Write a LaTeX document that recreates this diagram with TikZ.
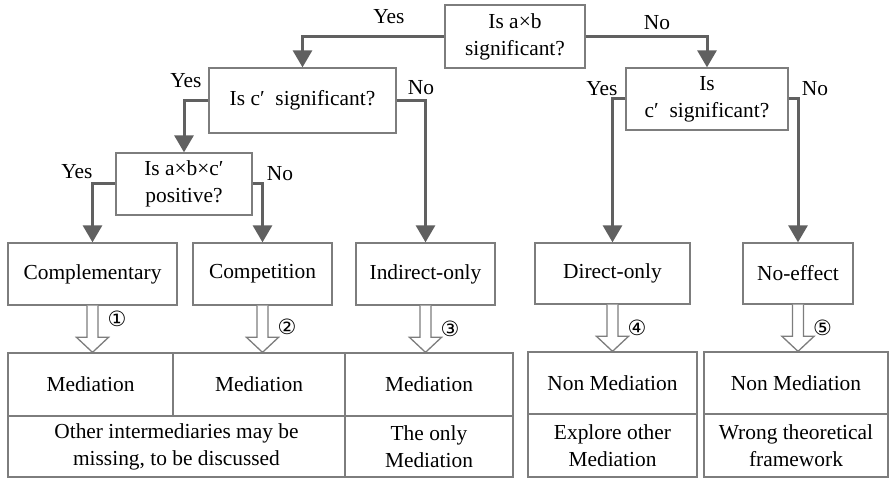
\documentclass[tikz,border=0pt]{standalone}
\usepackage{fontspec}
\setmainfont{Liberation Serif}
\newfontfamily\circfont{DejaVu Sans}
\usetikzlibrary{arrows.meta,calc}
\definecolor{linkgray}{RGB}{96,96,96}
\definecolor{boxgray}{RGB}{125,125,125}

\begin{document}
\begin{tikzpicture}[x=1pt,y=-1pt,>={Triangle[width=19pt,length=17pt]},
    every node/.style={font=\fontsize{21.4}{27}\selectfont},
    box/.style={draw=boxgray,line width=1.3pt,inner sep=0pt,align=center},
    link/.style={->,draw=linkgray,line width=3pt},
    hollow/.style={draw=boxgray,line width=1.3pt,fill=white,line join=miter}]
  \useasboundingbox (0,0) rectangle (889,478);

  % questions
  \node[box,minimum width=140pt,minimum height=63pt] (ab) at (515,36.5) {Is a×b\\significant?};
  \node[box,minimum width=187pt,minimum height=65pt] (cleft) at (302.5,100.5) {Is c′\enspace significant?};
  \node[box,minimum width=136pt,minimum height=62pt] (abc) at (184,184) {Is a×b×c′\\positive?};
  \node[box,minimum width=162pt,minimum height=62pt] (cright) at (707,99) {Is\\c′\enspace significant?};

  % mediation types
  \node[box,minimum width=169pt,minimum height=62pt] (compl) at (92.5,274) {Complementary};
  \node[box,minimum width=139pt,minimum height=62pt] (compet) at (262.5,274) {Competition};
  \node[box,minimum width=139pt,minimum height=62pt] (indir) at (425.5,274) {Indirect-only};
  \node[box,minimum width=155pt,minimum height=61pt] (direct) at (612.5,273.5) {Direct-only};
  \node[box,minimum width=110pt,minimum height=61pt] (noeff) at (798,273.5) {No-effect};

  % result tables
  \node[box,minimum width=165pt,minimum height=63pt] (med1) at (90.5,384.5) {Mediation};
  \node[box,minimum width=172pt,minimum height=63pt] (med2) at (259,384.5) {Mediation};
  \node[box,minimum width=168pt,minimum height=63pt] (med3) at (429,384.5) {Mediation};
  \node[box,minimum width=337pt,minimum height=61pt] (note12) at (176.5,446.5) {Other intermediaries may be\\missing, to be discussed};
  \node[box,minimum width=168pt,minimum height=61pt] (note3) at (429,446.5) {The only\\Mediation};
  \node[box,minimum width=169pt,minimum height=62pt] (med4) at (612.5,383) {Non Mediation};
  \node[box,minimum width=169pt,minimum height=63pt] (note4) at (612.5,445.5) {Explore other\\Mediation};
  \node[box,minimum width=184pt,minimum height=62pt] (med5) at (796,383) {Non Mediation};
  \node[box,minimum width=184pt,minimum height=63pt] (note5) at (796,445.5) {Wrong theoretical\\framework};

  % decisions
  \draw[link] (ab.west) -| (cleft.north);
  \draw[link] (ab.east) -| (cright.north);
  \draw[link] (cleft.west) -| (abc.north);
  \draw[link] (cleft.east) -| (indir.north);
  \draw[link] (abc.west) -| (compl.north);
  \draw[link] (abc.east) -| (compet.north);
  \draw[link] (cright.west) -| (direct.north);
  \draw[link] (cright.east) -| (noeff.north);

  \node (yesab) at (389,17) {Yes};
  \node (noab) at (657,23) {No};
  \node (yescl) at (186,81) {Yes};
  \node (nocl) at (421,88) {No};
  \node (yesabc) at (77,172) {Yes};
  \node (noabc) at (280,174) {No};
  \node (yescr) at (602,89) {Yes};
  \node (nocr) at (815,89) {No};

  % hollow arrows to the tables
  \foreach \a/\b/\n/\dy in {compl/med1/①/13,compet/med2/②/21,indir/med3/③/23,direct/med4/④/23,noeff/med5/⑤/23}{
    \draw[hollow] ($(\a.south)+(-5.5,0)$) -- ($(\a.south |- \b.north)+(-5.5,-15)$) -- ++(-10.5,0)
      -- (\a.south |- \b.north) -- ++(16,-15) -- ++(-10.5,0) -- ($(\a.south)+(5.5,0)$);
    \node[font=\circfont\fontsize{21}{21}\selectfont,inner sep=0pt] (num\b) at ($(\a.south)+(24.5,\dy)$) {\n};
  }
\end{tikzpicture}
\end{document}
